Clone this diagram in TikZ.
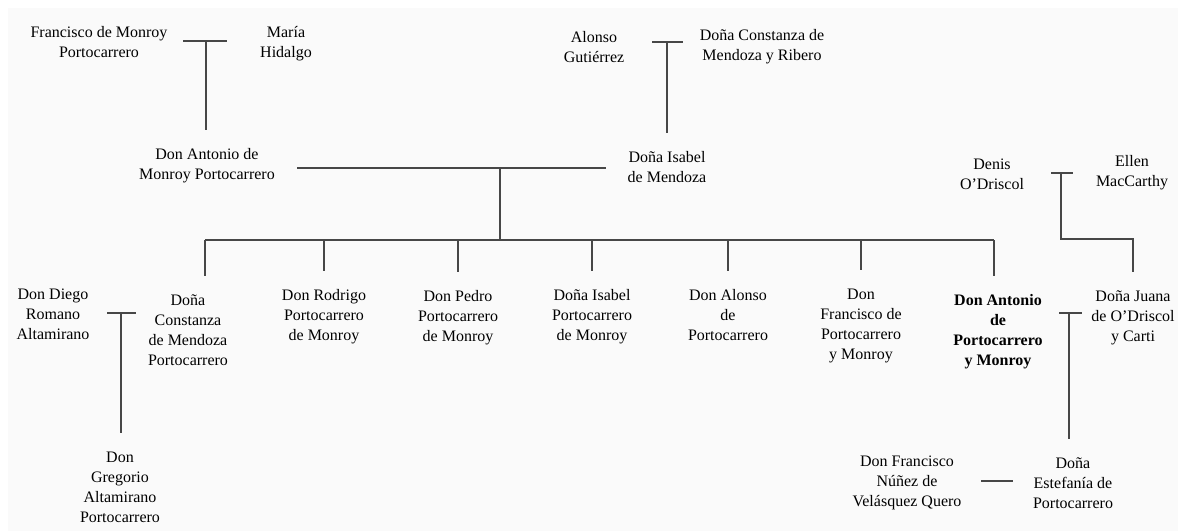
\documentclass[tikz,border=0pt]{standalone}
\usepackage{fontspec}
\setmainfont{Liberation Serif}
\usepackage{tikz}
\tikzstyle{person} = [align=center, inner sep=0pt, outer ysep=16pt, font=\fontsize{13.66pt}{17pt}\selectfont]
\tikzstyle{heir} = [person, font=\fontsize{13.66pt}{17pt}\selectfont\bfseries]
\tikzstyle{line} = [draw=black!72, line width=0.9pt]

\begin{document}
\begin{tikzpicture}[x=0.03cm, y=-0.03cm]
\useasboundingbox (0,0) rectangle (1178,531);
\fill[black!2] (8,8) rectangle (1178,531);
%定义人物节点
\node[person](francisco) at (99,42){Francisco de Monroy\\Portocarrero};
\node[person](maria) at (286,44){María\\Hidalgo};
\node[person](alonso) at (594,47){Alonso\\Gutiérrez};
\node[person](constanzaM) at (762,47){Doña Constanza de\\Mendoza y Ribero};
\node[person](antonio) at (207,166){Don Antonio de\\Monroy Portocarrero};
\node[person](isabel) at (667,167){Doña Isabel\\de Mendoza};
\node[person](denis) at (992,174){Denis\\O'Driscol};
\node[person](ellen) at (1132,173){Ellen\\MacCarthy};
\node[person](diego) at (53,314){Don Diego\\Romano\\Altamirano};
\node[person](c1) at (188,330){Doña\\Constanza\\de Mendoza\\Portocarrero};
\node[person](c2) at (324,317){Don Rodrigo\\Portocarrero\\de Monroy};
\node[person](c3) at (458,318){Don Pedro\\Portocarrero\\de Monroy};
\node[person](c4) at (592,317){Doña Isabel\\Portocarrero\\de Monroy};
\node[person](c5) at (728,315){Don Alonso\\de\\Portocarrero};
\node[person](c6) at (861,326){Don\\Francisco de\\Portocarrero\\y Monroy};
\node[heir](c7) at (998,332){Don Antonio\\de\\Portocarrero\\y Monroy};
\node[person](juana) at (1133,318){Doña Juana\\de O'Driscol\\y Carti};
\node[person](gregorio) at (120,487){Don\\Gregorio\\Altamirano\\Portocarrero};
\node[person](nunez) at (907,483){Don Francisco\\Núñez de\\Velásquez Quero};
\node[person](estefania) at (1073,483){Doña\\Estefanía de\\Portocarrero};
\coordinate (fmL) at (183,41);
\coordinate (fmR) at (227,41);
\coordinate (fmM) at (206,41);
\coordinate (agL) at (652,42);
\coordinate (agR) at (683,42);
\coordinate (agM) at (667,42);
\coordinate (aiL) at (297,168);
\coordinate (aiR) at (606,168);
\coordinate (aiM) at (500,168);
\coordinate (kL) at (205,240);
\coordinate (kR) at (994,240);
\coordinate (doL) at (1051,173);
\coordinate (doR) at (1073,173);
\coordinate (doM) at (1061,173);
\coordinate (doK) at (1061,239);
\coordinate (ajL) at (1059,313);
\coordinate (ajR) at (1082,313);
\coordinate (ajM) at (1069,313);
\coordinate (feL) at (981,481);
\coordinate (feR) at (1013,481);
\coordinate (dcL) at (107,313);
\coordinate (dcR) at (136,313);
\coordinate (dcM) at (121,313);
%连接线
\draw [line] (fmL) -- (fmR);
\draw [line] (fmM) -- (fmM |- antonio.north);
\draw [line] (agL) -- (agR);
\draw [line] (agM) -- (agM |- isabel.north);
\draw [line] (aiL) -- (aiR);
\draw [line] (aiM) -- (aiM |- kL);
\draw [line] (kL) -- (kR);
\draw [line] (kL) -- (kL |- c1.north);
\foreach \c in {c2,c3,c4,c5,c6}
  \draw [line] (\c.north |- kL) -- (\c.north);
\draw [line] (kR) -- (kR |- c7.north);
\draw [line] (doL) -- (doR);
\draw [line] (doM) -- (doK) -- (doK -| juana.north) -- (juana.north);
\draw [line] (ajL) -- (ajR);
\draw [line] (ajM) -- (ajM |- estefania.north);
\draw [line] (feL) -- (feR);
\draw [line] (dcL) -- (dcR);
\draw [line] (dcM) -- (dcM |- gregorio.north);
\end{tikzpicture}
\end{document}
